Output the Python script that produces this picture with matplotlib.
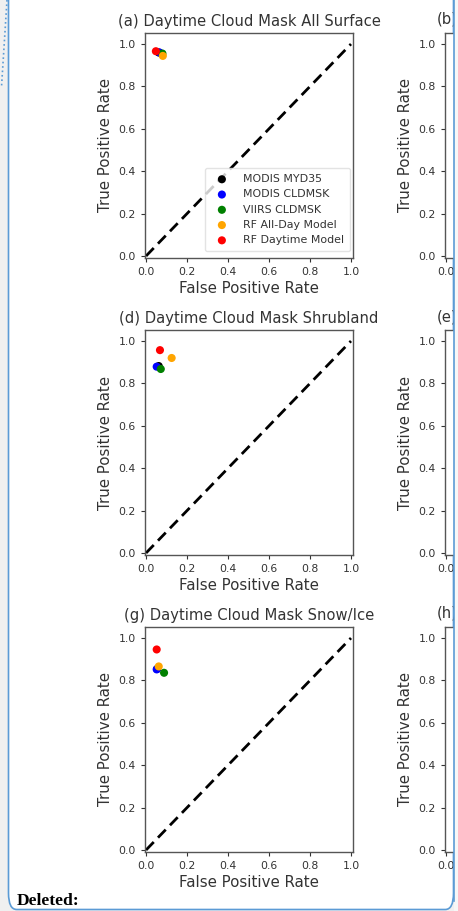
import matplotlib
matplotlib.use("Agg")
import matplotlib.pyplot as plt
from matplotlib.patches import FancyBboxPatch, Rectangle
from matplotlib.lines import Line2D

# ---------------- data ----------------
titles = ["(a) Daytime Cloud Mask All Surface",
          "(d) Daytime Cloud Mask Shrubland",
          "(g) Daytime Cloud Mask Snow/Ice"]
right_titles = ["(b)", "(e)", "(h)"]
models = ["MODIS MYD35", "MODIS CLDMSK", "VIIRS CLDMSK",
          "RF All-Day Model", "RF Daytime Model"]
colors = ["black", "blue", "green", "orange", "red"]

# false positive rate / true positive rate per panel (order = models)
fpr_a = [0.062, 0.066, 0.080, 0.082, 0.048]
tpr_a = [0.960, 0.960, 0.955, 0.944, 0.966]
fpr_d = [0.062, 0.052, 0.072, 0.125, 0.068]
tpr_d = [0.882, 0.879, 0.868, 0.920, 0.957]
fpr_g = [0.054, 0.052, 0.088, 0.062, 0.052]
tpr_g = [0.854, 0.852, 0.836, 0.866, 0.946]
fprs = [fpr_a, fpr_d, fpr_g]
tprs = [tpr_a, tpr_d, tpr_g]

ticks = [0.0, 0.2, 0.4, 0.6, 0.8, 1.0]
tick_labels = ["0.0", "0.2", "0.4", "0.6", "0.8", "1.0"]

# ---------------- figure ----------------
W, H = 458, 911
fig = plt.figure(figsize=(W / 100, H / 100), dpi=100)
fig.patch.set_facecolor("#f0f0f0")

# document frame
frame = FancyBboxPatch((8.5 / W, 1.5 / H), (445 / W), (930 / H),
                       boxstyle="round,pad=0,rounding_size=0.018",
                       transform=fig.transFigure, facecolor="white",
                       edgecolor="#5b9bd5", linewidth=1.2, zorder=0)
fig.add_artist(frame)
fig.add_artist(Line2D([7 / W, 1.5 / W], [1.0, 1 - 87 / H], transform=fig.transFigure,
                      color="#5b9bd5", linestyle=":", linewidth=1.2))

text_col = "#333333"
spine_col = "#555555"
fs_title = 10.6
fs_label = 10.8
fs_tick = 7.8

tops = [33, 330, 627]
ax_h = 225
ax_w = 208
lefts = [145, 445]


def style_axes(ax, right=False):
    ax.set_xlim(-0.005, 1.0098)
    ax.set_ylim(-0.0094, 1.052)
    ax.set_xticks(ticks)
    ax.set_yticks(ticks)
    ax.set_yticklabels(tick_labels)
    if right:
        ax.set_xticklabels(["0.0", "", "", "", "", ""])
    else:
        ax.set_xticklabels(tick_labels)
        ax.set_xlabel("False Positive Rate", fontsize=fs_label, color=text_col, labelpad=3)
    ax.tick_params(labelsize=fs_tick, colors=text_col, length=3, width=0.8)
    for s in ax.spines.values():
        s.set_color(spine_col)
        s.set_linewidth(1.0)
    ax.set_ylabel("True Positive Rate", fontsize=fs_label, color=text_col, labelpad=4)


for i in range(3):
    top = tops[i]
    ax = fig.add_axes([lefts[0] / W, (H - top - ax_h) / H, ax_w / W, ax_h / H])
    style_axes(ax)
    ax.plot([0, 1], [0, 1], linestyle=(0, (4, 2.2)), color="black", linewidth=2)
    for m, c, x, y in zip(models, colors, fprs[i], tprs[i]):
        ax.scatter([x], [y], color=c, s=34, label=m, zorder=3, edgecolors="none")
    ax.set_title(titles[i], fontsize=fs_title, color=text_col, pad=5)
    if i == 0:
        leg = ax.legend(loc="lower right", fontsize=7.9, frameon=True,
                        handletextpad=0.9, borderpad=0.55, labelspacing=0.48,
                        borderaxespad=0.0, bbox_to_anchor=(0.985, 0.03))
        for t in leg.get_texts():
            t.set_color(text_col)
        leg.get_frame().set_edgecolor("#dddddd")

    # right column (cut off by the page frame)
    ax2 = fig.add_axes([lefts[1] / W, (H - top - ax_h) / H, ax_w / W, ax_h / H])
    style_axes(ax2, right=True)
    ax2.text(-0.042, 1.0 + 6 / ax_h, right_titles[i], transform=ax2.transAxes,
             fontsize=fs_title, color=text_col, ha="left", va="bottom")

# cover outside the frame at right
fig.add_artist(Rectangle((454 / W, 0), 10 / W, 1, transform=fig.transFigure,
                         facecolor="#f7f7f7", edgecolor="none", zorder=10))
fig.add_artist(Line2D([453.5 / W, 453.5 / W], [10 / H, 1.0], transform=fig.transFigure,
                      color="#5b9bd5", linewidth=1.2, zorder=11))

fig.text(17 / W, 1 - 905 / H, "Deleted:", fontsize=12.6, fontweight="bold",
         family="Liberation Serif", color="black", ha="left", va="baseline")

fig.savefig("out.png", dpi=100, facecolor=fig.get_facecolor())
